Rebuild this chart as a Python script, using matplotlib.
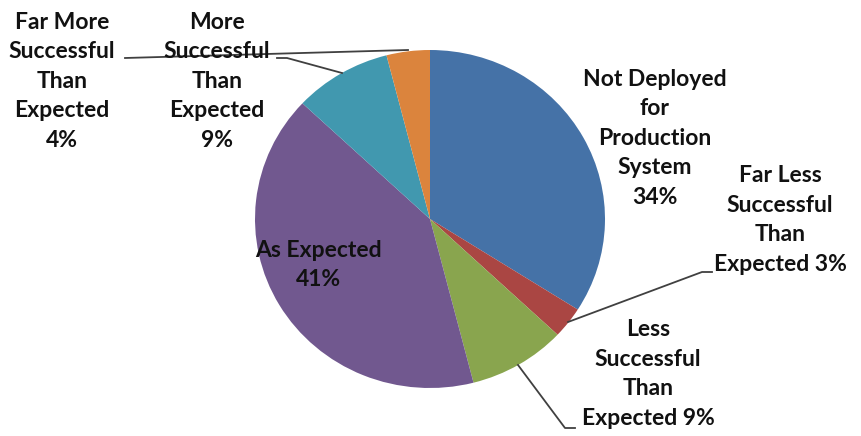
import matplotlib.pyplot as plt

# slice data (clockwise from 12 o'clock)
categories = ["Not Deployed\nfor\nProduction\nSystem", "Far Less\nSuccessful\nThan\nExpected", "Less\nSuccessful\nThan\nExpected",
              "As Expected", "More\nSuccessful\nThan\nExpected", "Far More\nSuccessful\nThan\nExpected"]
shares = [34, 3, 9, 41, 9, 4]
colors = ["#4572A7", "#AA4643", "#89A54E", "#71588F", "#4198AF", "#DB843D"]

fig = plt.figure(figsize=(8.61, 4.36), dpi=100)
ax = fig.add_axes([0, 0, 1, 1])
ax.pie(shares, colors=colors, startangle=90, counterclock=False,
       wedgeprops=dict(linewidth=0))
ax.set_aspect("auto")
# slight horizontal stretch like the original
ax.set_xlim(-430 / 175, 431 / 175)
ax.set_ylim(-(436 - 219) / 169, 219 / 169)
ax.axis("off")

font = dict(family=["Lato", "DejaVu Sans"], fontweight="bold", fontsize=16.5,
            ha="center", va="center", color="#111111", linespacing=1.5)

# label text: name + share; a few put the percent on the last line
labels = [
    categories[0] + "\n%d%%" % shares[0],
    categories[1] + " %d%%" % shares[1],
    categories[2] + " %d%%" % shares[2],
    categories[3] + "\n%d%%" % shares[3],
    categories[4] + "\n%d%%" % shares[4],
    categories[5] + "\n%d%%" % shares[5],
]


def px(p):
    return ((p[0] - 430) / 175, (219 - p[1]) / 169)


label_pos = [px(p) for p in [(655, 138), (780, 220), (648, 374), (318, 265),
                             (217, 81), (62, 81)]]

# leader lines (pixel coords of the original)
leaders = [
    None,
    [(568, 322), (702, 272), (712, 272)],
    [(518, 365), (565, 428), (575, 428)],
    None,
    [(342, 73), (287, 58), (277, 58)],
    [(408, 50), (125, 58)],
]

for lab, pos, ld in zip(labels, label_pos, leaders):
    if ld is not None:
        pts = [px(p) for p in ld]
        ax.plot([p[0] for p in pts], [p[1] for p in pts], color="#404040", lw=1.3, zorder=3)
    ax.text(pos[0], pos[1], lab, zorder=4, **font)

fig.savefig("out.png", dpi=100)
